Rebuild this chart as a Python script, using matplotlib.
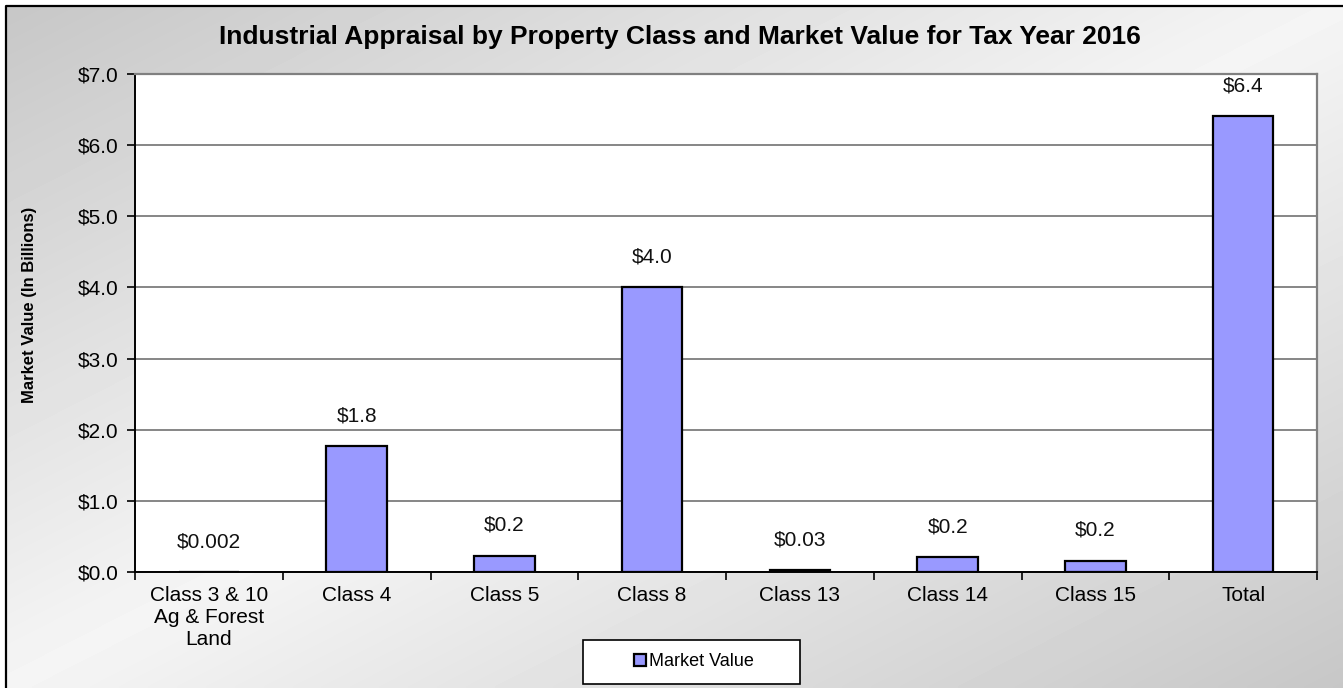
import numpy as np
import matplotlib
matplotlib.use("Agg")
import matplotlib.pyplot as plt
from matplotlib.patches import Rectangle

plt.rcParams['font.family'] = ['Liberation Sans', 'DejaVu Sans']

categories = ["Class 3 & 10\nAg & Forest\nLand", "Class 4", "Class 5", "Class 8",
              "Class 13", "Class 14", "Class 15", "Total"]
values = [0.002, 1.77, 0.23, 4.0, 0.03, 0.21, 0.16, 6.41]
labels = ["$0.002", "$1.8", "$0.2", "$4.0", "$0.03", "$0.2", "$0.2", "$6.4"]
yticks = [0, 1, 2, 3, 4, 5, 6, 7]

W, H = 1343, 688
fig = plt.figure(figsize=(W / 100, H / 100), dpi=100)
fig.patch.set_facecolor("white")

# gray diagonal gradient behind everything
bg = fig.add_axes([6 / W, 0, 1 - 6 / W, 1 - 6 / H], zorder=-10)
gx, gy = np.meshgrid(np.linspace(0, 1, 400), np.linspace(0, 1, 200))
d = (gx + gy) / 2.0
shade = 1 - np.abs(d - 0.5) * 2
bg.imshow(shade, cmap="gray", vmin=-4.33, vmax=1.22, aspect="auto", origin="upper",
          extent=[0, 1, 0, 1], interpolation="bilinear")
bg.set_xlim(0, 1)
bg.set_ylim(0, 1)
bg.set_axis_off()
bg.plot([0, 0, 1], [0, 1, 1], color="black", lw=1.6, transform=bg.transAxes, clip_on=False)

ax = fig.add_axes([135 / W, 1 - 572 / H, (1317 - 135) / W, (572 - 74) / H])
ax.set_facecolor("white")
x = np.arange(len(categories))
ax.bar(x, values, width=0.41, color="#9999FF", edgecolor="black", linewidth=1.6,
       zorder=3, label="Market Value")
for xi, v, lab in zip(x, values, labels):
    ax.annotate(lab, (xi, v), xytext=(0, 15), textcoords="offset points",
                ha="center", va="bottom", fontsize=15, color="#111111")

ax.set_xlim(-0.5, len(categories) - 0.5)
ax.set_ylim(0, 7)
ax.set_yticks(yticks)
ax.set_yticklabels(["${:.1f}".format(t) for t in yticks], fontsize=15)
ax.set_xticks(x)
ax.set_xticklabels(categories, fontsize=15, linespacing=1.22)
ax.set_xticks(np.arange(-0.5, len(categories)), minor=True)
ax.tick_params(axis="x", which="major", length=0, pad=10)
ax.tick_params(axis="x", which="minor", length=6, width=1.2, direction="out")
ax.tick_params(axis="y", length=6, width=1.2, direction="out", pad=6)
ax.grid(axis="y", color="#666666", lw=1.1, zorder=1)
ax.set_axisbelow(True)
for s in ["top", "right"]:
    ax.spines[s].set_color("#808080")
    ax.spines[s].set_linewidth(1.6)
for s in ["left", "bottom"]:
    ax.spines[s].set_color("black")
    ax.spines[s].set_linewidth(1.4)

ax.set_ylabel("Market Value (In Billions)", fontsize=12, fontweight="bold")
ax.yaxis.set_label_coords((37 - 135) / (1317 - 135), (572 - 305) / (572 - 74))
fig.text(679.5 / W, 1 - 37 / H, "Industrial Appraisal by Property Class and Market Value for Tax Year 2016",
         ha="center", va="center", fontsize=19, fontweight="bold")

# legend box
fig.patches.append(Rectangle((583 / W, 1 - 684 / H), 217 / W, 44 / H, transform=fig.transFigure,
                             facecolor="white", edgecolor="black", lw=1.2, zorder=5))
leg = fig.legend(loc="center", bbox_to_anchor=(694 / W, 1 - 662 / H), fontsize=13,
                 frameon=False, handlelength=0.65, handleheight=0.65, handletextpad=0.2,
                 borderpad=0, borderaxespad=0)
leg.set_zorder(6)

fig.savefig("out.png", dpi=100)
